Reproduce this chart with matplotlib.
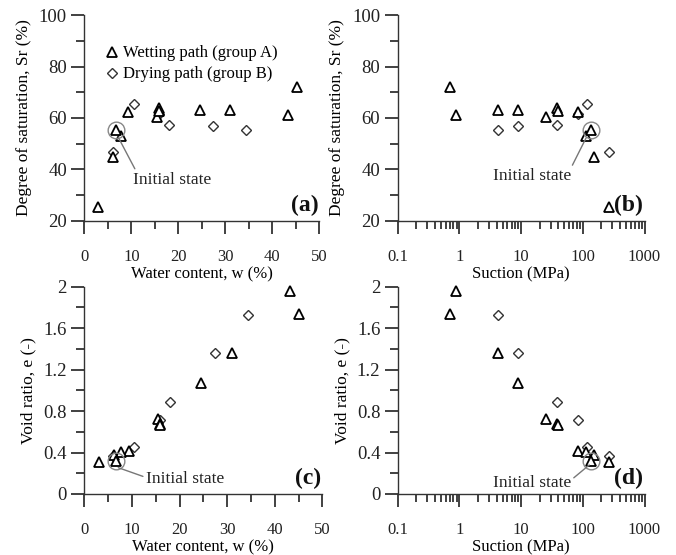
import matplotlib
matplotlib.use("Agg")
import matplotlib.pyplot as plt
from matplotlib.ticker import FixedLocator

plt.rcParams["font.family"] = ["Liberation Serif", "DejaVu Serif"]

# Wetting path (group A): water content, degree of saturation, suction, void ratio
wet_w = [45.2, 43.3, 31.0, 24.6, 15.5, 15.8, 15.9, 9.4, 7.8, 6.2, 3.0]
wet_sr = [71.9, 61.0, 63.0, 63.0, 60.5, 63.8, 62.6, 62.2, 53.2, 44.8, 25.6]
wet_s = [0.70, 0.88, 4.2, 9.0, 25.0, 38.0, 39.0, 83.0, 112.0, 150.0, 270.0]
wet_e = [1.74, 1.96, 1.36, 1.07, 0.72, 0.68, 0.67, 0.415, 0.41, 0.38, 0.31]

# Drying path (group B)
dry_w = [34.3, 27.4, 18.1, 15.8, 10.5, 6.0]
dry_sr = [55.4, 56.7, 57.2, 61.5, 65.5, 46.8]
dry_s = [4.2, 9.0, 38.0, 84.0, 115.0, 265.0]
dry_e = [1.73, 1.36, 0.89, 0.71, 0.455, 0.365]

# Initial state
init_w, init_sr, init_s, init_e = 6.7, 55.2, 137.0, 0.32

# axis ticks
w_major = [0, 10, 20, 30, 40, 50]
w_minor = [5, 15, 25, 35, 45]
s_major = [0.1, 1, 10, 100, 1000]
s_labels = ["0.1", "1", "10", "100", "1000"]
s_minor = [m * d for d in (0.1, 1, 10, 100) for m in range(2, 10)]
sr_major = [20, 40, 60, 80, 100]
sr_minor = [30, 50, 70, 90]
e_major = [0, 0.4, 0.8, 1.2, 1.6, 2.0]
e_labels = ["0", "0.4", "0.8", "1.2", "1.6", "2"]
e_minor = [0.2, 0.6, 1.0, 1.4, 1.8]

fig = plt.figure(figsize=(6.76, 5.55), dpi=100)
W, H = 676.0, 555.0


def make_ax(x0, x1, y0, y1):
    return fig.add_axes([x0 / W, 1 - y1 / H, (x1 - x0) / W, (y1 - y0) / H])


ax_a = make_ax(84.3, 319.3, 15, 221)
ax_b = make_ax(397.7, 644.5, 15, 221)
ax_c = make_ax(84.3, 322.3, 286.7, 494)
ax_d = make_ax(397.7, 644.5, 286.7, 494)

spine_col = "#333333"
tri = dict(marker="^", ms=6.5, mfc="white", mec="black", mew=1.3, ls="none")
dia = dict(marker="D", ms=5.2, mfc="white", mec="#333333", mew=1.0, ls="none")
circ = dict(marker="o", ms=12, mfc="none", mec="#888888", mew=1.0, ls="none")

for ax in (ax_a, ax_b, ax_c, ax_d):
    for side in ("top", "right"):
        ax.spines[side].set_visible(False)
    for side in ("left", "bottom"):
        ax.spines[side].set_color(spine_col)
        ax.spines[side].set_linewidth(1.0)

# (a) Sr vs w
ax_a.plot(dry_w, dry_sr, label="Drying path (group B)", clip_on=False, **dia)
ax_a.plot(wet_w, wet_sr, label="Wetting path (group A)", clip_on=False, **tri)
ax_a.plot([init_w], [init_sr], clip_on=False, **tri)
ax_a.plot([init_w], [init_sr], clip_on=False, **circ)

# (b) Sr vs suction
ax_b.plot(dry_s, dry_sr, clip_on=False, **dia)
ax_b.plot(wet_s, wet_sr, clip_on=False, **tri)
ax_b.plot([init_s], [init_sr], clip_on=False, **tri)
ax_b.plot([init_s], [init_sr], clip_on=False, **circ)

# (c) e vs w
ax_c.plot(dry_w, dry_e, clip_on=False, **dia)
ax_c.plot(wet_w, wet_e, clip_on=False, **tri)
ax_c.plot([init_w], [init_e], clip_on=False, **tri)
ax_c.plot([init_w], [init_e], clip_on=False, **circ)

# (d) e vs suction
ax_d.plot(dry_s, dry_e, clip_on=False, **dia)
ax_d.plot(wet_s, wet_e, clip_on=False, **tri)
ax_d.plot([init_s], [init_e], clip_on=False, **tri)
ax_d.plot([init_s], [init_e], clip_on=False, **circ)

for ax in (ax_a, ax_c):
    ax.set_xlim(0, 50)
    ax.xaxis.set_major_locator(FixedLocator(w_major))
    ax.xaxis.set_minor_locator(FixedLocator(w_minor))
    ax.set_xlabel("Water content, w (%)", fontsize=12, labelpad=1)

for ax in (ax_b, ax_d):
    ax.set_xscale("log")
    ax.set_xlim(0.1, 1000)
    ax.xaxis.set_major_locator(FixedLocator(s_major))
    ax.xaxis.set_minor_locator(FixedLocator(s_minor))
    ax.set_xticklabels(s_labels)
    ax.set_xticklabels([], minor=True)
    ax.set_xlabel("Suction (MPa)", fontsize=12, labelpad=1)

for ax in (ax_a, ax_b):
    ax.set_ylim(20, 100)
    ax.yaxis.set_major_locator(FixedLocator(sr_major))
    ax.yaxis.set_minor_locator(FixedLocator(sr_minor))
    ax.set_ylabel("Degree of saturation, Sr (%)", fontsize=12.5, labelpad=5)

for ax in (ax_c, ax_d):
    ax.set_ylim(0, 2)
    ax.set_yticks(e_major)
    ax.set_yticklabels(e_labels)
    ax.yaxis.set_minor_locator(FixedLocator(e_minor))
    ax.set_ylabel("Void ratio, e (-)", fontsize=12.5, labelpad=5)

for ax in (ax_a, ax_b, ax_c, ax_d):
    ax.tick_params(axis="both", which="both", direction="out", color=spine_col,
                   labelcolor="#222222", width=1.3, top=False, right=False,
                   bottom=True, left=True)
    ax.tick_params(axis="both", which="major", length=9.5)
    ax.tick_params(axis="both", which="minor", length=6)
    ax.tick_params(axis="x", which="major", labelsize=12, pad=11)
    ax.tick_params(axis="y", which="major", labelsize=13.5, pad=3)

# legend in (a)
handles, labels = ax_a.get_legend_handles_labels()
ax_a.legend(handles[::-1], labels[::-1], loc="upper left", bbox_to_anchor=(0.06, 0.885),
            frameon=False, fontsize=12, handlelength=0.8, handletextpad=0.3,
            labelspacing=0.3, borderaxespad=0)

# Initial state labels
line = dict(arrowstyle="-", color="#777777", lw=1.0, shrinkA=0, shrinkB=0)
ax_a.annotate("Initial state", xy=(7.2, 52.6), xytext=(10.4, 39.2), ha="left", va="top",
              fontsize=12.5, color="#222222",
              arrowprops=dict(relpos=(0.04, 1.0), **line))
ax_b.annotate("Initial state", xy=(112.8, 52.2), xytext=(64.4, 40.6), ha="right", va="top",
              fontsize=12.5, color="#222222",
              arrowprops=dict(relpos=(1.0, 1.0), **line))
ax_c.annotate("Initial state", xy=(7.14, 0.254), xytext=(12.9, 0.145), ha="left", va="center",
              fontsize=12.5, color="#222222",
              arrowprops=dict(relpos=(0.0, 0.6), **line))
ax_d.annotate("Initial state", xy=(127, 0.28), xytext=(64.4, 0.103), ha="right", va="center",
              fontsize=12.5, color="#222222",
              arrowprops=dict(relpos=(1.0, 0.7), **line))

for ax, tag in ((ax_a, "(a)"), (ax_b, "(b)"), (ax_c, "(c)"), (ax_d, "(d)")):
    ax.text(0.995, 0.025, tag, transform=ax.transAxes, ha="right", va="bottom",
            fontsize=17, fontweight="bold", color="#111111")

fig.savefig("out.png", dpi=100)
